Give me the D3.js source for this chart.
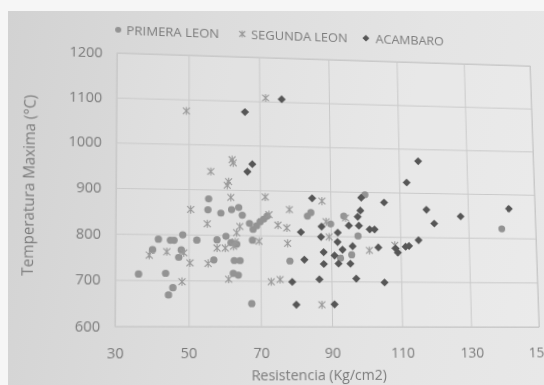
<!DOCTYPE html>
<html>
<head>
<meta charset="utf-8">
<script src="https://cdn.jsdelivr.net/npm/d3@7"></script>
<style>
  html, body { margin: 0; padding: 0; width: 544px; height: 385px; overflow: hidden; background: #f6f6f6; }
  #paper {
    position: absolute; left: 8px; top: 11px; width: 536px; height: 374px;
    background: linear-gradient(100deg, #d2d2d2 0%, #dcdcdc 35%, #e4e4e4 70%, #e8e8e8 100%);
  }
  #chart { position: absolute; left: 0; top: 0; transform-origin: 0 0; overflow: visible; }
  text { font-family: "Open Sans", "Liberation Sans", sans-serif; fill: #7b7b7b; }
</style>
</head>
<body>
<div id="paper"></div>
<svg id="chart" width="544" height="385"></svg>
<script>
// Axis ticks and labels
const xTicks = [30, 50, 70, 90, 110, 130, 150];
const yTicks = [600, 700, 800, 900, 1000, 1100, 1200];
const xTitle = "Resistencia (Kg/cm2)";
const yTitle = "Temperatura Maxima (°C)";
const seriesNames = ["PRIMERA LEON", "SEGUNDA LEON", "ACAMBARO"];

// PRIMERA LEON: resistencia (Kg/cm2) and temperatura maxima (°C)
const primeraX = [55.6, 55.4, 59, 62, 64, 65, 67, 68, 69, 70, 71, 72, 83.4, 84.4,
  41.7, 45, 46, 48.4, 52.3, 57.9, 60.4, 61.8, 63.4, 67.8,
  40.1, 48, 47.3, 57, 62.7, 64.3, 78.3,
  36.3, 43.7, 62.4, 63.8, 45.7, 44.5, 67.5,
  100, 93.8, 90, 97.8, 92.7, 95.9, 139.9];
const primeraY = [879, 855, 848, 856, 861, 844, 826, 813, 821, 830, 836, 843, 844, 852,
  789, 787, 787, 799, 788, 789, 797, 783, 780, 789,
  766, 766, 750, 745, 744, 744, 744,
  713, 715, 716, 712, 684, 668, 650,
  894, 845, 827, 801, 751, 759, 821];

// SEGUNDA LEON
const segundaX = [71.8, 49.4, 62.2, 62.5, 56.2, 61.2, 60.8, 61.8, 71.5, 50.6, 72.5, 78.3,
  55.2, 64.3, 63.4, 75, 77.5, 69.6, 57.9, 60.2, 62.5, 63, 39.2, 44, 48.7, 50.4, 55.4,
  77.7, 61.1, 48.2, 73, 75.5, 87.6, 94.3, 88.7, 89.5, 101, 108.4, 87.2];
const segundaY = [1108, 1074, 967, 960, 940, 918, 910, 883, 885, 855, 846, 858,
  824, 819, 805, 823, 817, 787, 771, 771, 775, 785, 754, 762, 760, 738, 737,
  783, 703, 697, 698, 703, 878, 841, 832, 798, 769, 781, 648];

// ACAMBARO
const acambaroX = [76.4, 65.9, 67.9, 66.5, 84.8, 115.7, 112.2, 98.9, 105.5, 98.6, 117.8, 127.8,
  142.2, 97.8, 120, 81.5, 87.4, 95.2, 98.1, 87.2, 92, 101.2, 102.6, 91.9, 96.2, 93.3,
  87.9, 103.6, 108.6, 109.2, 111.5, 112.5, 115.3, 82.4, 87.9, 91, 92.1, 95.5, 86.6,
  97.1, 105.2, 78.9, 80, 90.8];
const acambaroY = [1106, 1075, 958, 941, 884, 972, 923, 887, 877, 858, 862, 848,
  867, 844, 831, 808, 821, 824, 824, 798, 808, 816, 816, 787, 778, 770,
  764, 776, 774, 765, 778, 780, 793, 747, 738, 757, 739, 739, 704,
  706, 698, 698, 648, 649];

// Plot frame in drawing coordinates
const plot = { left: 116, top: 53, right: 538, bottom: 327 };
// Where the frame corners land on the tilted sheet (TL, TR, BR, BL)
const sheetCorners = [[117, 53], [530, 66], [539, 327], [115, 326.5]];

const x = d3.scaleLinear().domain([30, 150]).range([plot.left, plot.right]);
const y = d3.scaleLinear().domain([600, 1200]).range([plot.bottom, plot.top]);

const svg = d3.select("#chart");

// Plot area and grid
svg.append("rect")
  .attr("x", plot.left).attr("y", plot.top)
  .attr("width", plot.right - plot.left).attr("height", plot.bottom - plot.top)
  .attr("fill", "rgba(255,255,255,0.14)")
  .attr("stroke", "#c6c6c6").attr("stroke-width", 1);

svg.append("g")
  .attr("transform", `translate(0,${plot.bottom})`)
  .call(d3.axisBottom(x).tickValues(xTicks).tickSize(-(plot.bottom - plot.top)).tickFormat(""))
  .call(g => g.select(".domain").remove())
  .call(g => g.selectAll("line").attr("stroke", "#c9c9c9"));

svg.append("g")
  .attr("transform", `translate(${plot.left},0)`)
  .call(d3.axisLeft(y).tickValues(yTicks).tickSize(-(plot.right - plot.left)).tickFormat(""))
  .call(g => g.select(".domain").remove())
  .call(g => g.selectAll("line").attr("stroke", "#c9c9c9"));

// Tick labels
const xAxis = svg.append("g")
  .attr("transform", `translate(0,${plot.bottom})`)
  .call(d3.axisBottom(x).tickValues(xTicks).tickSize(0).tickPadding(21).tickFormat(d3.format("d")));
xAxis.select(".domain").remove();
xAxis.selectAll("text").attr("font-size", 14).attr("font-family", null).style("fill", "#7b7b7b");

const yAxis = svg.append("g")
  .attr("transform", `translate(${plot.left},0)`)
  .call(d3.axisLeft(y).tickValues(yTicks).tickSize(0).tickPadding(14).tickFormat(d3.format("d")));
yAxis.select(".domain").remove();
yAxis.selectAll("text").attr("font-size", 14).attr("font-family", null).style("fill", "#7b7b7b");

// Axis titles
svg.append("text")
  .attr("x", 314).attr("y", 380)
  .attr("text-anchor", "middle").attr("font-size", 14)
  .text(xTitle);

svg.append("text")
  .attr("transform", "translate(38,188) rotate(-90)")
  .attr("text-anchor", "middle").attr("font-size", 15)
  .text(yTitle);

// Marker shapes
const starPath = s => `M${-s},${-s}L${s},${s}M${-s},${s}L${s},${-s}M0,${-s * 1.2}L0,${s * 1.2}`;
const diamondPath = s => `M0,${-s}L${s},0L0,${s}L${-s},0Z`;

function drawCircle(g, cx, cy, r) {
  g.append("circle").attr("cx", cx).attr("cy", cy).attr("r", r).attr("fill", "#939393");
}
function drawStar(g, cx, cy, s) {
  g.append("path").attr("transform", `translate(${cx},${cy})`).attr("d", starPath(s))
    .attr("fill", "none").attr("stroke", "#999").attr("stroke-width", 1.1);
}
function drawDiamond(g, cx, cy, s) {
  g.append("path").attr("transform", `translate(${cx},${cy})`).attr("d", diamondPath(s))
    .attr("fill", "#565656");
}

const marks = svg.append("g");
const gP = marks.append("g"), gS = marks.append("g"), gA = marks.append("g");
primeraX.forEach((v, i) => drawCircle(gP, x(v), y(primeraY[i]), 3.6));
segundaX.forEach((v, i) => drawStar(gS, x(v), y(segundaY[i]), 3.4));
acambaroX.forEach((v, i) => drawDiamond(gA, x(v), y(acambaroY[i]), 4.1));

// Legend
const legend = svg.append("g");
const legendItems = [
  { name: seriesNames[0], mx: 117, tx: 125, draw: (g, cx, cy) => drawCircle(g, cx, cy, 3) },
  { name: seriesNames[1], mx: 240, tx: 249, draw: (g, cx, cy) => drawStar(g, cx, cy, 3) },
  { name: seriesNames[2], mx: 366, tx: 376, draw: (g, cx, cy) => drawDiamond(g, cx, cy, 3.6) }
];
legendItems.forEach(it => {
  it.draw(legend, it.mx, 29);
  legend.append("text").attr("x", it.tx).attr("y", 34).attr("font-size", 13).text(it.name);
});

// Perspective of the sheet: homography from the drawing frame to the tilted frame
function homography(src, dst) {
  const A = [], b = [];
  for (let i = 0; i < 4; i++) {
    const [sx, sy] = src[i], [dx, dy] = dst[i];
    A.push([sx, sy, 1, 0, 0, 0, -sx * dx, -sy * dx]); b.push(dx);
    A.push([0, 0, 0, sx, sy, 1, -sx * dy, -sy * dy]); b.push(dy);
  }
  const n = 8;
  for (let c = 0; c < n; c++) {
    let p = c;
    for (let r = c + 1; r < n; r++) if (Math.abs(A[r][c]) > Math.abs(A[p][c])) p = r;
    [A[c], A[p]] = [A[p], A[c]]; [b[c], b[p]] = [b[p], b[c]];
    for (let r = 0; r < n; r++) {
      if (r === c) continue;
      const f = A[r][c] / A[c][c];
      for (let k = c; k < n; k++) A[r][k] -= f * A[c][k];
      b[r] -= f * b[c];
    }
  }
  return b.map((v, i) => v / A[i][i]);
}
const frame = [[plot.left, plot.top], [plot.right, plot.top], [plot.right, plot.bottom], [plot.left, plot.bottom]];
const [a, bb, c, d, e, f, g, h] = homography(frame, sheetCorners);
document.getElementById("chart").style.transform =
  `matrix3d(${a},${d},0,${g},${bb},${e},0,${h},0,0,1,0,${c},${f},0,1)`;
</script>
</body>
</html>
